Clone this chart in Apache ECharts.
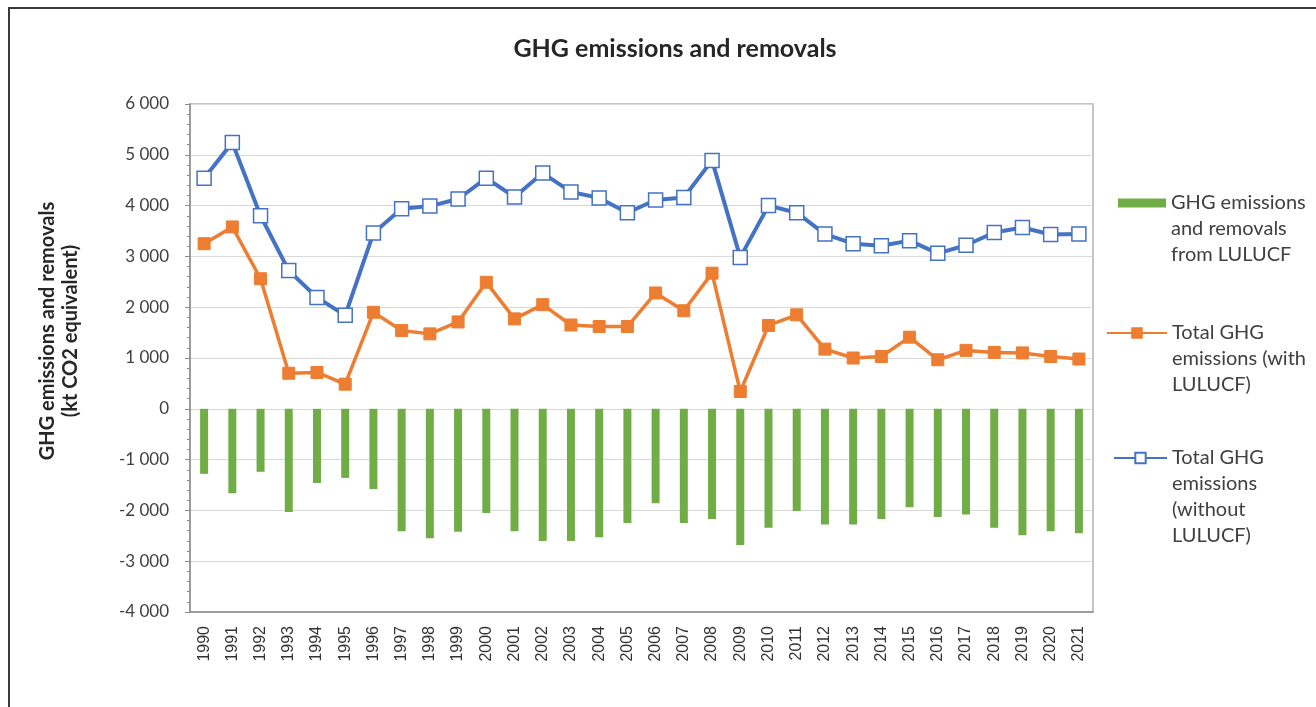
<!DOCTYPE html>
<html>
<head>
<meta charset="utf-8">
<title>GHG emissions and removals</title>
<script src="https://cdn.jsdelivr.net/npm/echarts@6/dist/echarts.min.js"></script>
<style>
  html, body { margin: 0; padding: 0; background: #fff; }
  #chart { width: 1316px; height: 707px; }
</style>
</head>
<body>
<div id="chart"></div>
<script>
// years on the x axis
var years = ['1990', '1991', '1992', '1993', '1994', '1995', '1996', '1997', '1998', '1999',
  '2000', '2001', '2002', '2003', '2004', '2005', '2006', '2007', '2008', '2009', '2010',
  '2011', '2012', '2013', '2014', '2015', '2016', '2017', '2018', '2019', '2020', '2021'];

// LULUCF (bars), kt CO2 eq
var lulucf = [-1280, -1660, -1240, -2030, -1460, -1360, -1580, -2410, -2550, -2420,
  -2050, -2410, -2600, -2600, -2530, -2250, -1860, -2250, -2170, -2680, -2340,
  -2010, -2280, -2280, -2170, -1940, -2130, -2080, -2340, -2490, -2410, -2450];

// total with LULUCF (orange line)
var totalWith = [3250, 3580, 2560, 700, 715, 485, 1900, 1540, 1475, 1710,
  2490, 1770, 2050, 1650, 1620, 1620, 2280, 1930, 2670, 340, 1640,
  1850, 1175, 1000, 1030, 1410, 965, 1150, 1110, 1100, 1030, 980];

// total without LULUCF (blue line)
var totalWithout = [4540, 5240, 3800, 2720, 2190, 1840, 3460, 3940, 3990, 4130,
  4540, 4170, 4640, 4270, 4150, 3860, 4110, 4160, 4890, 2980, 4000,
  3860, 3440, 3250, 3210, 3310, 3060, 3220, 3470, 3570, 3430, 3440];

var names = [
  'GHG emissions\nand removals\nfrom LULUCF',
  'Total GHG\nemissions (with\nLULUCF)',
  'Total GHG\nemissions\n(without\nLULUCF)'
];

var FONT = 'Lato, "Open Sans", sans-serif';
var TXT = '#404040';
var LH = 26;

// one legend per item; blank lines in front keep the first line beside the icon
function legendFor(idx, lines, left, centerY, w, h, icon) {
  var lg = {
    data: [{ name: names[idx], icon: icon }],
    orient: 'vertical',
    left: left,
    top: centerY - (2 * lines - 1) * LH / 2,
    padding: 0,
    itemWidth: w,
    itemHeight: h,
    itemGap: 0,
    selectedMode: false,
    formatter: function (name) {
      return new Array(lines).join('\n') + name;
    },
    textStyle: {
      fontFamily: FONT,
      fontSize: 20,
      color: TXT,
      lineHeight: LH
    }
  };
  return lg;
}

var chart = echarts.init(document.getElementById('chart'));

var option = {
  animation: false,
  backgroundColor: '#fff',
  title: {
    text: 'GHG emissions and removals',
    left: 670,
    top: 31,
    textAlign: 'center',
    textStyle: {
      fontFamily: FONT,
      fontSize: 25,
      fontWeight: 'bold',
      color: '#262626'
    }
  },
  legend: [
    legendFor(0, 3, 1118, 203, 48, 9, 'rect'),
    legendFor(1, 3, 1106, 333, 60, 12),
    legendFor(2, 4, 1113, 458, 53, 13)
  ],
  grid: {
    left: 190,
    right: 223,
    top: 104,
    bottom: 95,
    show: true,
    borderColor: '#b3b3b3',
    borderWidth: 1.5,
    backgroundColor: 'transparent'
  },
  xAxis: {
    type: 'category',
    data: years,
    axisLine: { onZero: false, lineStyle: { color: '#8c8c8c', width: 1.5 } },
    axisTick: { show: false },
    axisLabel: {
      rotate: 90,
      interval: 0,
      margin: 14,
      fontFamily: '"Liberation Sans", Arial, sans-serif',
      fontSize: 16,
      color: '#333333'
    }
  },
  yAxis: {
    type: 'value',
    min: -4000,
    max: 6000,
    interval: 1000,
    axisLine: { show: true, lineStyle: { color: '#8c8c8c', width: 1.5 } },
    axisTick: { show: true, inside: false, length: 5, lineStyle: { color: '#8c8c8c' } },
    minorTick: { show: true, splitNumber: 5, length: 3, lineStyle: { color: '#8c8c8c' } },
    splitLine: { lineStyle: { color: '#d9d9d9', width: 1.2 } },
    axisLabel: {
      margin: 21,
      fontFamily: FONT,
      fontSize: 17,
      color: TXT,
      formatter: function (v) {
        var s = String(Math.abs(v)).replace(/\B(?=(\d{3})+(?!\d))/g, ' ');
        return (v < 0 ? '-' : '') + s;
      }
    }
  },
  graphic: [
    {
      type: 'text',
      x: 59,
      y: 331,
      rotation: Math.PI / 2,
      style: {
        text: 'GHG emissions and removals\n(kt CO2 equivalent)',
        fontFamily: FONT,
        fontSize: 20,
        fontWeight: 'bold',
        fill: '#262626',
        lineHeight: 23,
        align: 'center',
        verticalAlign: 'middle'
      }
    },
    {
      // outer frame of the original picture (left and top edges)
      type: 'polyline',
      shape: { points: [[9, 720], [9, 8], [1330, 8]] },
      style: { stroke: '#3a3a3a', lineWidth: 2, fill: null },
      silent: true
    }
  ],
  series: [
    {
      name: names[0],
      type: 'bar',
      data: lulucf,
      barWidth: 8,
      itemStyle: { color: '#70ad47' },
      z: 1
    },
    {
      name: names[1],
      type: 'line',
      data: totalWith,
      symbol: 'rect',
      symbolSize: 12,
      lineStyle: { color: '#ed7d31', width: 3.5 },
      itemStyle: { color: '#ed7d31', borderColor: '#ed7d31', borderWidth: 1 },
      z: 3
    },
    {
      name: names[2],
      type: 'line',
      data: totalWithout,
      symbol: 'rect',
      symbolSize: 14,
      lineStyle: { color: '#4472c4', width: 4 },
      itemStyle: { color: '#ffffff', borderColor: '#4472c4', borderWidth: 1.5 },
      z: 4
    }
  ]
};

chart.setOption(option);
</script>
</body>
</html>
